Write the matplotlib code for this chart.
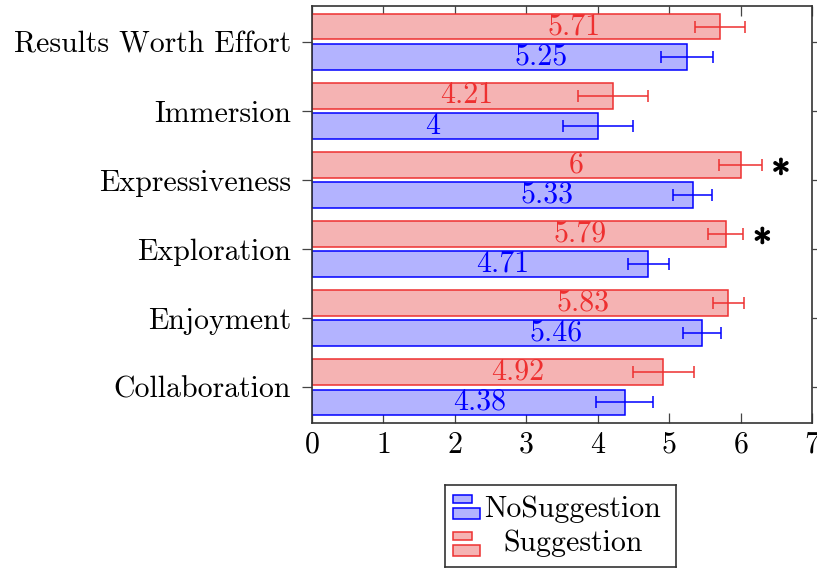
import matplotlib
matplotlib.use("Agg")
import matplotlib.pyplot as plt
from matplotlib.patches import Rectangle
import matplotlib.patheffects as pe
import numpy as np

# Questionnaire ratings, listed top to bottom
categories = ["Results Worth Effort", "Immersion", "Expressiveness",
              "Exploration", "Enjoyment", "Collaboration"]
no_suggestion = [5.25, 4, 5.33, 4.71, 5.46, 4.38]
no_suggestion_err = [0.37, 0.49, 0.27, 0.29, 0.26, 0.40]
suggestion = [5.71, 4.21, 6, 5.79, 5.83, 4.92]
suggestion_err = [0.35, 0.49, 0.30, 0.25, 0.22, 0.43]
significant = [False, False, True, True, False, False]
x_ticks = [0, 1, 2, 3, 4, 5, 6, 7]
series_labels = ["NoSuggestion", "Suggestion"]

plt.rcParams["font.family"] = ["cmr10", "DejaVu Serif"]
plt.rcParams["mathtext.fontset"] = "cm"
plt.rcParams["axes.formatter.use_mathtext"] = True

FS = 21.5
BLUE_FILL = "#b3b3ff"
RED_FILL = "#f5b3b3"
RED = "#ee3030"

fig = plt.figure(figsize=(8.17, 5.69), dpi=100)
ax = fig.add_axes([312 / 817, 146 / 569, 500 / 817, 417 / 569])

y = np.arange(len(categories))[::-1].astype(float)
h = 0.37
shift = 0.22

ax.barh(y - shift, no_suggestion, height=h, color=BLUE_FILL,
        edgecolor="blue", linewidth=1.1, zorder=2)
ax.barh(y + shift, suggestion, height=h, color=RED_FILL,
        edgecolor=RED, linewidth=1.1, zorder=2)
ax.errorbar(no_suggestion, y - shift, xerr=no_suggestion_err, fmt="none",
            ecolor="blue", elinewidth=1.1, capsize=4.5, capthick=1.1, zorder=3)
ax.errorbar(suggestion, y + shift, xerr=suggestion_err, fmt="none",
            ecolor=RED, elinewidth=1.1, capsize=4.5, capthick=1.1, zorder=3)

# value labels sit a fixed distance left of each bar end
for yi, v in zip(y, no_suggestion):
    ax.text(v - 2.41, yi - shift, f"{v:g}", color="blue", fontsize=FS,
            ha="left", va="center", zorder=4)
for yi, v in zip(y, suggestion):
    ax.text(v - 2.41, yi + shift, f"{v:g}", color=RED, fontsize=FS,
            ha="left", va="center", zorder=4)

# significance markers
for yi, v, e, sig in zip(y, suggestion, suggestion_err, significant):
    if sig:
        ax.annotate(r"$\ast$", xy=(v + e, yi + shift), xytext=(13.5, -1),
                    textcoords="offset points", ha="center", va="center",
                    fontsize=FS + 5, color="black",
                    path_effects=[pe.withStroke(linewidth=1.3, foreground="black")])

ax.set_xlim(0, 7)
ax.set_ylim(-0.52, 5.52)
ax.set_xticks(x_ticks)
ax.set_yticks(y)
ax.set_yticklabels(categories)
ax.tick_params(axis="x", direction="in", top=True, length=7, width=0.9,
               labelsize=FS, pad=6, color="#444444")
ax.tick_params(axis="y", direction="out", right=True, length=7, width=0.9,
               labelsize=FS, pad=8, color="#444444")
for sp in ax.spines.values():
    sp.set_color("#333333")
    sp.set_linewidth(1.2)

# legend box below the axes
lax = fig.add_axes([445 / 817, 2 / 569, 231 / 817, 82 / 569])
lax.set_xlim(0, 1)
lax.set_ylim(0, 1)
lax.set_xticks([])
lax.set_yticks([])
for sp in lax.spines.values():
    sp.set_color("#333333")
    sp.set_linewidth(1.2)
icon_styles = [(BLUE_FILL, "blue", 0.78, 0.585), (RED_FILL, RED, 0.33, 0.134)]
for (fill, edge, top_y, low_y), label, base in zip(icon_styles, series_labels, [0.61, 0.195]):
    lax.add_patch(Rectangle((0.035, top_y), 0.082, 0.098, facecolor=fill,
                            edgecolor=edge, linewidth=1.1))
    lax.add_patch(Rectangle((0.035, low_y), 0.117, 0.135, facecolor=fill,
                            edgecolor=edge, linewidth=1.1))
    lax.text(0.554, base, label, fontsize=FS, ha="center", va="baseline")

fig.savefig("out.png", dpi=100)
